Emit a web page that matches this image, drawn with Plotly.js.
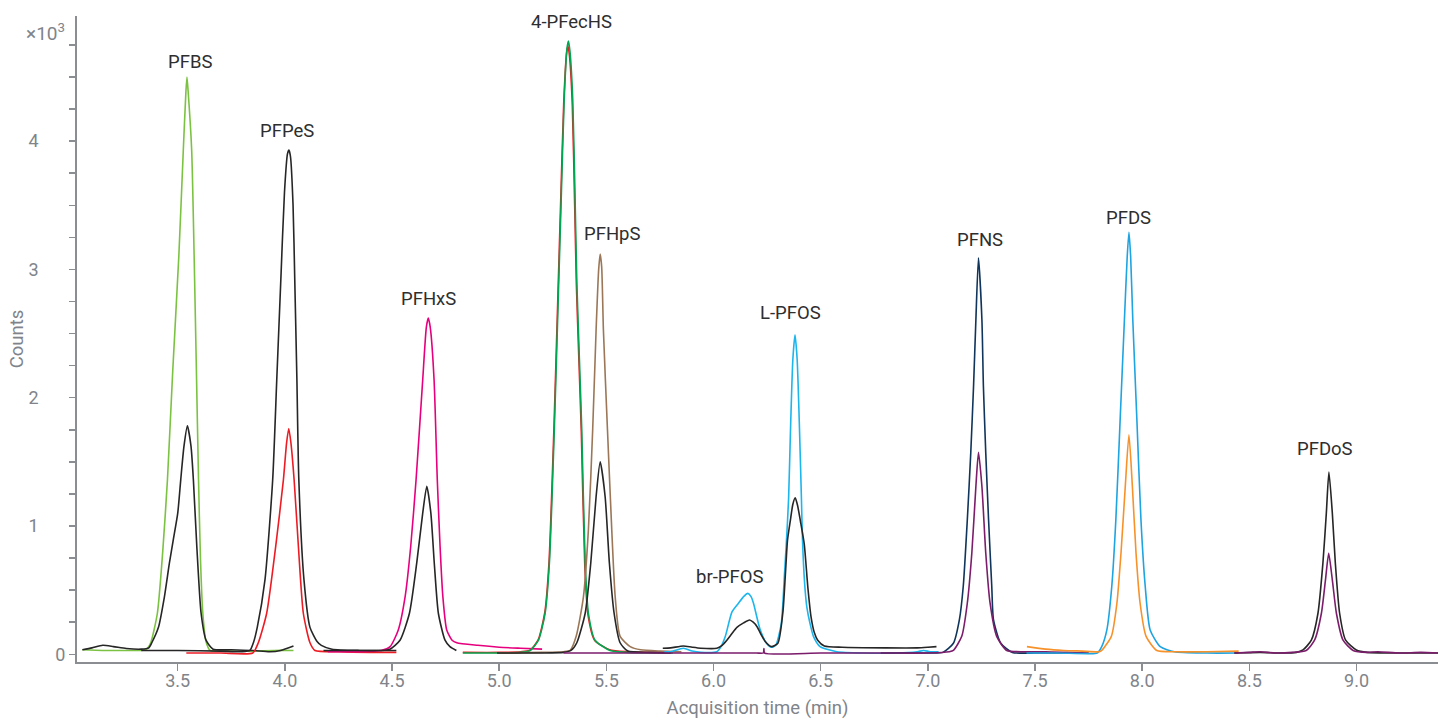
<!DOCTYPE html>
<html>
<head>
<meta charset="utf-8">
<script src="https://cdn.plot.ly/plotly-3.0.1.min.js"></script>
<style>html,body{margin:0;padding:0;background:#fff;}#chart{width:1440px;height:719px;}</style>
</head>
<body>
<div id="chart"></div>
<script>
// ---- Data (Counts in units of x10^3, time in min) ----
// PFBS
const pfbsQuantTime = [3.055,3.15,3.25,3.33,3.355,3.374,3.405,3.43,3.452,3.477,3.505,3.526,3.538,3.543,3.548,3.565,3.576,3.587,3.597,3.606,3.617,3.632,3.651,3.72,3.85,3.95,4.04];
const pfbsQuant     = [0.035,0.03,0.03,0.03,0.04,0.09,0.32,0.80,1.36,2.22,3.10,3.93,4.38,4.50,4.40,3.93,3.15,2.22,1.36,0.75,0.32,0.10,0.03,0.025,0.025,0.03,0.03];
const pfbsQualTime  = [3.055,3.10,3.15,3.20,3.26,3.33,3.365,3.379,3.41,3.438,3.461,3.479,3.50,3.514,3.529,3.545,3.562,3.573,3.589,3.609,3.632,3.665,3.75,3.85,3.93,3.98,4.04];
const pfbsQual      = [0.035,0.05,0.07,0.06,0.045,0.04,0.05,0.09,0.21,0.45,0.71,0.89,1.10,1.36,1.62,1.78,1.62,1.36,0.84,0.32,0.11,0.04,0.035,0.03,0.02,0.03,0.065];
// PFPeS
const pfpesQuantTime = [3.33,3.50,3.70,3.80,3.837,3.853,3.871,3.907,3.943,3.962,3.981,3.998,4.012,4.019,4.026,4.038,4.046,4.056,4.065,4.089,4.117,4.15,4.17,4.22,4.35,4.52];
const pfpesQuant     = [0.03,0.03,0.025,0.02,0.03,0.09,0.21,0.58,1.36,2.14,2.92,3.60,3.90,3.93,3.88,3.50,2.92,2.14,1.36,0.58,0.21,0.10,0.07,0.04,0.03,0.03];
const pfpesQualTime  = [3.54,3.70,3.85,3.876,3.915,3.957,3.993,4.008,4.018,4.028,4.043,4.063,4.086,4.117,4.14,4.25,4.40,4.52];
const pfpesQual      = [0.01,0.01,0.01,0.09,0.32,0.84,1.36,1.65,1.76,1.65,1.36,0.84,0.32,0.09,0.03,0.02,0.015,0.015];
// PFHxS
const pfhxsQuantTime = [4.20,4.35,4.45,4.491,4.529,4.561,4.587,4.612,4.643,4.660,4.669,4.678,4.696,4.711,4.724,4.737,4.755,4.78,4.802,4.90,5.00,5.10,5.20];
const pfhxsQuant     = [0.02,0.02,0.03,0.06,0.19,0.45,0.84,1.36,2.14,2.55,2.62,2.55,2.14,1.36,0.84,0.45,0.19,0.11,0.09,0.07,0.055,0.047,0.04];
const pfhxsQualTime  = [4.18,4.30,4.45,4.49,4.537,4.581,4.615,4.643,4.662,4.681,4.697,4.716,4.747,4.77,4.80];
const pfhxsQual      = [0.03,0.03,0.03,0.04,0.11,0.32,0.71,1.10,1.31,1.10,0.71,0.32,0.11,0.06,0.03];
// 4-PFecHS
const pfechsQuantTime = [4.83,5.00,5.10,5.144,5.183,5.214,5.234,5.257,5.276,5.289,5.303,5.316,5.323,5.330,5.343,5.354,5.362,5.374,5.385,5.401,5.416,5.447,5.517,5.60,5.70,5.81];
const pfechsQuant     = [0.01,0.01,0.015,0.03,0.11,0.32,0.71,1.75,2.81,3.54,4.32,4.72,4.78,4.70,4.32,3.54,2.90,2.30,1.75,0.71,0.32,0.11,0.03,0.015,0.01,0.01];
const pfechsQualTime  = [4.83,5.00,5.10,5.142,5.181,5.212,5.232,5.255,5.274,5.287,5.301,5.314,5.321,5.328,5.341,5.352,5.360,5.372,5.383,5.399,5.414,5.445,5.515,5.60,5.80];
const pfechsQual      = [0.015,0.015,0.02,0.03,0.11,0.32,0.71,1.75,2.81,3.54,4.30,4.68,4.74,4.66,4.28,3.50,2.88,2.28,1.73,0.70,0.31,0.11,0.035,0.02,0.015];
// PFHpS
const pfhpsQuantTime = [5.00,5.20,5.30,5.331,5.359,5.393,5.416,5.436,5.452,5.464,5.471,5.478,5.486,5.505,5.525,5.541,5.564,5.611,5.66,5.75,5.85];
const pfhpsQuant     = [0.01,0.015,0.02,0.03,0.14,0.45,0.97,1.75,2.53,3.00,3.12,3.02,2.53,1.75,0.97,0.45,0.14,0.06,0.035,0.025,0.02];
const pfhpsQualTime  = [4.99,5.20,5.30,5.335,5.362,5.401,5.427,5.452,5.471,5.494,5.514,5.536,5.564,5.60,5.70,5.80];
const pfhpsQual      = [0.01,0.01,0.015,0.03,0.09,0.32,0.71,1.23,1.50,1.23,0.71,0.32,0.09,0.025,0.015,0.01];
// PFOS (br-PFOS + L-PFOS)
const pfosQuantTime = [5.77,5.80,5.859,5.90,5.94,6.015,6.035,6.055,6.086,6.117,6.140,6.160,6.175,6.186,6.216,6.247,6.27,6.29,6.316,6.331,6.339,6.350,6.360,6.370,6.380,6.390,6.400,6.410,6.415,6.425,6.435,6.45,6.466,6.497,6.575,6.70,6.85,6.95,6.98,7.01,7.05];
const pfosQuant     = [0.02,0.02,0.047,0.025,0.015,0.02,0.06,0.14,0.33,0.40,0.45,0.475,0.45,0.40,0.20,0.086,0.055,0.07,0.24,0.63,0.85,1.21,1.81,2.30,2.49,2.30,1.81,1.21,0.89,0.55,0.37,0.24,0.14,0.06,0.02,0.01,0.01,0.02,0.03,0.02,0.02];
const pfosQualTime  = [5.763,5.80,5.859,5.90,5.94,6.015,6.040,6.062,6.085,6.109,6.140,6.168,6.185,6.203,6.22,6.241,6.27,6.30,6.323,6.335,6.345,6.358,6.370,6.381,6.392,6.405,6.423,6.440,6.455,6.470,6.486,6.517,6.60,6.80,6.95,7.00,7.04];
const pfosQual      = [0.047,0.05,0.065,0.055,0.047,0.047,0.07,0.11,0.16,0.21,0.245,0.267,0.25,0.215,0.16,0.10,0.06,0.086,0.32,0.62,0.89,1.04,1.17,1.22,1.16,1.04,0.86,0.52,0.29,0.17,0.11,0.065,0.055,0.05,0.05,0.055,0.06];
// PFNS
const pfnsQuantTime = [6.78,6.90,7.00,7.07,7.119,7.147,7.165,7.184,7.200,7.213,7.224,7.236,7.252,7.259,7.270,7.283,7.298,7.306,7.340,7.394,7.50,7.60,7.75];
const pfnsQuant     = [0.01,0.01,0.01,0.015,0.086,0.27,0.53,1.05,1.57,2.09,2.61,3.09,2.61,2.09,1.57,1.05,0.53,0.27,0.086,0.015,0.01,0.01,0.01];
const pfnsQualTime  = [5.30,5.60,5.90,6.20,6.232,6.235,6.238,6.50,6.80,7.00,7.10,7.119,7.158,7.184,7.205,7.224,7.236,7.252,7.270,7.290,7.321,7.368,7.45,7.55,7.65,7.75];
const pfnsQual      = [0.01,0.01,0.01,0.01,0.01,0.045,0.01,0.01,0.01,0.01,0.02,0.03,0.14,0.40,0.79,1.31,1.575,1.31,0.79,0.40,0.14,0.03,0.02,0.02,0.015,0.01];
// PFDS
const pfdsQuantTime = [7.46,7.60,7.75,7.79,7.811,7.835,7.858,7.877,7.897,7.917,7.930,7.938,7.946,7.956,7.975,7.994,8.014,8.037,8.084,8.15,8.30,8.45];
const pfdsQuant     = [0.01,0.01,0.005,0.01,0.06,0.19,0.53,1.05,1.83,2.61,3.10,3.29,3.10,2.61,1.83,1.05,0.53,0.19,0.06,0.02,0.01,0.01];
const pfdsQualTime  = [7.462,7.55,7.634,7.72,7.80,7.811,7.856,7.882,7.901,7.921,7.938,7.954,7.971,7.990,8.018,8.068,8.15,8.30,8.45];
const pfdsQual      = [0.06,0.04,0.03,0.025,0.02,0.03,0.14,0.40,0.79,1.31,1.71,1.31,0.79,0.40,0.14,0.03,0.02,0.02,0.025];
// PFDoS
const pfdosQuantTime = [8.43,8.55,8.65,8.72,8.750,8.789,8.820,8.843,8.859,8.871,8.887,8.901,8.921,8.949,8.999,9.05,9.15,9.25,9.38];
const pfdosQuant     = [0.01,0.015,0.01,0.015,0.034,0.11,0.32,0.71,1.10,1.42,1.10,0.71,0.32,0.11,0.034,0.015,0.01,0.01,0.01];
const pfdosQualTime  = [8.43,8.50,8.55,8.62,8.70,8.765,8.804,8.836,8.855,8.870,8.887,8.906,8.937,8.984,9.05,9.10,9.20,9.30,9.38];
const pfdosQual      = [0.01,0.015,0.02,0.01,0.015,0.03,0.11,0.32,0.58,0.787,0.58,0.32,0.11,0.03,0.015,0.02,0.01,0.015,0.01];

// Peak labels
const peakNames = ['PFBS','PFPeS','PFHxS','4-PFecHS','PFHpS','br-PFOS','L-PFOS','PFNS','PFDS','PFDoS'];
const peakLabelX = [3.557,4.010,4.668,5.335,5.527,6.073,6.357,7.244,7.935,8.854];
const peakLabelY = [4.62,4.08,2.77,4.93,3.276,0.60,2.66,3.23,3.40,1.60];

// Axis ticks
const xTickVals = [3.5,4.0,4.5,5.0,5.5,6.0,6.5,7.0,7.5,8.0,8.5,9.0];
const xTickText = ['3.5','4.0','4.5','5.0','5.5','6.0','6.5','7.0','7.5','8.0','8.5','9.0'];
const yTickVals = [0,1,2,3,4];
const yTickText = ['0','1','2','3','4'];

// ---- Build traces ----
const C = {
  black:'#262626', lime:'#7cc242', red:'#ed1c24', pink:'#e6007e', green:'#00a650',
  brown:'#9b7757', cyan:'#1cb5ec', navy:'#10355c', purple:'#7b1d6b', blue:'#1ea4e0', orange:'#f7922a'
};
function tr(x, y, color){
  return {x:x, y:y, type:'scatter', mode:'lines', hoverinfo:'skip',
          line:{color:color, width:1.6, shape:'spline', smoothing:0.6}};
}
const traces = [
  tr(pfbsQuantTime, pfbsQuant, C.lime),
  tr(pfbsQualTime, pfbsQual, C.black),
  tr(pfpesQualTime, pfpesQual, C.red),
  tr(pfpesQuantTime, pfpesQuant, C.black),
  tr(pfhxsQuantTime, pfhxsQuant, C.pink),
  tr(pfhxsQualTime, pfhxsQual, C.black),
  tr(pfechsQualTime, pfechsQual, C.red),
  tr(pfechsQuantTime, pfechsQuant, C.green),
  tr(pfhpsQuantTime, pfhpsQuant, C.brown),
  tr(pfhpsQualTime, pfhpsQual, C.black),
  tr(pfosQuantTime, pfosQuant, C.cyan),
  tr(pfosQualTime, pfosQual, C.black),
  tr(pfnsQuantTime, pfnsQuant, C.navy),
  tr(pfnsQualTime, pfnsQual, C.purple),
  tr(pfdsQuantTime, pfdsQuant, C.blue),
  tr(pfdsQualTime, pfdsQual, C.orange),
  tr(pfdosQuantTime, pfdosQuant, C.black),
  tr(pfdosQualTime, pfdosQual, C.purple)
];

const gray = '#8a8e93';
const labelGray = '#80848a';
const pad = '\u00a0\u00a0\u00a0\u00a0\u00a0\u00a0';
const annotations = peakNames.map((n,i)=>({
  x:peakLabelX[i], y:peakLabelY[i], xref:'x', yref:'y', text:n, showarrow:false,
  xanchor:'center', yanchor:'middle', font:{family:'Roboto', size:18.5, color:'#2e2e2e'}
}));
annotations.push({x:-0.023, y:0.9737, xref:'paper', yref:'paper', text:'×10<sup>3</sup>', showarrow:false,
  xanchor:'center', yanchor:'middle', font:{family:'Roboto', size:19, color:labelGray}});

const layout = {
  width:1440, height:719,
  margin:{l:77, r:2, t:16, b:57},
  paper_bgcolor:'#ffffff', plot_bgcolor:'#ffffff',
  showlegend:false,
  font:{family:'Roboto', color:labelGray},
  xaxis:{
    range:[3.03, 9.38], tickmode:'array', tickvals:xTickVals, ticktext:xTickText,
    ticks:'outside', ticklen:7, tickwidth:1.5, tickcolor:gray, ticklabelstandoff:-6,
    showline:true, linecolor:gray, linewidth:2, showgrid:false, zeroline:false,
    tickfont:{family:'Roboto', size:18, color:labelGray},
    title:{text:'Acquisition time (min)', font:{family:'Roboto', size:18.5, color:labelGray}, standoff:12}
  },
  yaxis:{
    range:[-0.06, 4.975], tickmode:'array', tickvals:yTickVals,
    ticktext:yTickText.map((t,i)=> i===0 ? t : t+pad),
    ticks:'outside', ticklen:6, tickwidth:1.5, tickcolor:gray,
    minor:{tickmode:'linear', tick0:0, dtick:0.25, ticks:'outside', ticklen:6, tickwidth:1.5, tickcolor:gray},
    showline:true, linecolor:gray, linewidth:2, showgrid:false, zeroline:false,
    tickfont:{family:'Roboto', size:18, color:labelGray},
    title:{text:'Counts', font:{family:'Roboto', size:18.5, color:labelGray}, standoff:0}
  },
  annotations:annotations
};
Plotly.newPlot('chart', traces, layout, {displayModeBar:false, staticPlot:true});
</script>
</body>
</html>
